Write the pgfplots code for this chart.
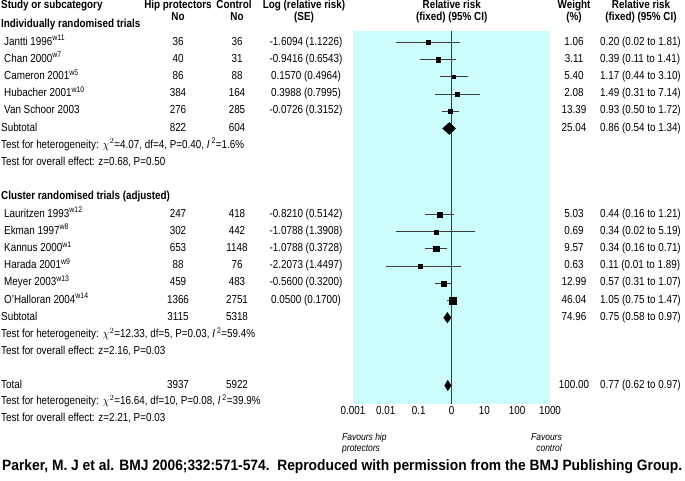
\documentclass[border=0pt]{standalone}
\usepackage{pgfplots}
\pgfplotsset{compat=1.18}
\usepackage{fontspec}
\setmainfont{Liberation Sans}[FakeStretch=0.85]
\newfontfamily\citefont{Liberation Sans}[FakeStretch=0.92]
\definecolor{panel}{RGB}{204,252,252}
\definecolor{ciline}{RGB}{60,60,60}
\begin{document}
\begin{tikzpicture}[x=1bp,y=-1bp,
  every node/.style={inner sep=0pt,font=\fontsize{11.6bp}{13bp}\selectfont},
  L/.style={anchor=mid west},
  C/.style={anchor=mid},
  H/.style={anchor=mid,font=\fontsize{11.6bp}{13bp}\selectfont\bfseries},
  HL/.style={anchor=mid west,font=\fontsize{11.6bp}{13bp}\selectfont\bfseries}]
\path[use as bounding box] (0,0) rectangle (685,481);
\coordinate (sw) at (353,404);
\begin{axis}[
  at={(sw)}, anchor=south west,
  scale only axis, width=197bp, height=373bp,
  xmode=log, xmin=0.001, xmax=1000,
  ymin=31, ymax=404, y dir=reverse,
  axis background/.style={fill=panel},
  axis line style={draw=none},
  xtick={0.001,0.01,0.1,1,10,100,1000},
  xticklabels={0.001,0.01,0.1,0,10,100,1000},
  xtick pos=left, ytick=\empty,
  xminorticks=false,
  major tick length=3bp,
  tick style={white,line width=0.8pt},
  xticklabel style={font=\fontsize{11.6bp}{13bp}\selectfont, inner sep=2pt},
  clip=false,
  ci/.style={draw=ciline,line width=0.9pt},
  sq/.style={only marks,mark=square*,mark options={fill=black,draw=black}},
]
% null line
\addplot[draw=ciline,line width=0.9pt] coordinates {(1,31) (1,404)};
% individually randomised trials: confidence intervals
\addplot[ci] coordinates {(0.02,42.5) (1.81,42.5)};
\addplot[ci] coordinates {(0.11,59.7) (1.41,59.7)};
\addplot[ci] coordinates {(0.44,76.9) (3.10,76.9)};
\addplot[ci] coordinates {(0.31,94.1) (7.14,94.1)};
\addplot[ci] coordinates {(0.50,111.3) (1.72,111.3)};
% cluster randomised trials
\addplot[ci] coordinates {(0.16,214.5) (1.21,214.5)};
\addplot[ci] coordinates {(0.02,231.7) (5.19,231.7)};
\addplot[ci] coordinates {(0.16,248.9) (0.71,248.9)};
\addplot[ci] coordinates {(0.01,266.1) (1.89,266.1)};
\addplot[ci] coordinates {(0.31,283.3) (1.07,283.3)};
\addplot[ci] coordinates {(0.75,300.5) (1.47,300.5)};
% point estimates
\addplot[sq,mark size=2bp] coordinates {(0.20,42.5)};
\addplot[sq,mark size=2.3bp] coordinates {(0.39,59.7)};
\addplot[sq,mark size=1.7bp] coordinates {(1.17,76.9)};
\addplot[sq,mark size=1.7bp] coordinates {(1.49,94.1)};
\addplot[sq,mark size=1.9bp] coordinates {(0.93,111.3)};
\addplot[sq,mark size=2.5bp] coordinates {(0.44,214.5)};
\addplot[sq,mark size=2bp] coordinates {(0.34,231.7)};
\addplot[sq,mark size=2.7bp] coordinates {(0.34,248.9)};
\addplot[sq,mark size=2.3bp] coordinates {(0.11,266.1)};
\addplot[sq,mark size=2.5bp] coordinates {(0.57,283.3)};
\addplot[sq,mark size=3.5bp] coordinates {(1.05,300.5)};
% pooled diamonds
\addplot[fill=black,draw=black] coordinates {(0.54,128.5) (0.86,122.5) (1.34,128.5) (0.86,134.5)} --cycle;
\addplot[fill=black,draw=black] coordinates {(0.58,317.7) (0.75,312.5) (0.97,317.7) (0.75,322.9)} --cycle;
\addplot[fill=black,draw=black] coordinates {(0.62,385.5) (0.77,380.3) (0.97,385.5) (0.77,390.7)} --cycle;
\end{axis}
% headers
\node[HL] at (1,6) {Study or subcategory};
\node[H] at (178,6) {Hip protectors};
\node[H] at (178,18) {No};
\node[H] at (234,6) {Control};
\node[H] at (237,18) {No};
\node[H] at (304,6) {Log (relative risk)};
\node[H] at (304,18) {(SE)};
\node[H] at (451.7,6) {Relative risk};
\node[H] at (451.7,18) {(fixed) (95\% CI)};
\node[H] at (574,6) {Weight};
\node[H] at (574,18) {(\%)};
\node[H] at (641,6) {Relative risk};
\node[H] at (641,18) {(fixed) (95\% CI)};
\node[HL] at (1,25) {Individually randomised trials};
% study rows
\foreach \y/\name/\hp/\co/\lr/\w/\rr in {
  42.5/{Jantti 1996\textsuperscript{w11}}/36/36/{-1.6094 (1.1226)}/1.06/{0.20 (0.02 to 1.81)},
  59.7/{Chan 2000\textsuperscript{w7}}/40/31/{-0.9416 (0.6543)}/3.11/{0.39 (0.11 to 1.41)},
  76.9/{Cameron 2001\textsuperscript{w5}}/86/88/{0.1570 (0.4964)}/5.40/{1.17 (0.44 to 3.10)},
  94.1/{Hubacher 2001\textsuperscript{w10}}/384/164/{0.3988 (0.7995)}/2.08/{1.49 (0.31 to 7.14)},
  111.3/{Van Schoor 2003}/276/285/{-0.0726 (0.3152)}/13.39/{0.93 (0.50 to 1.72)},
  214.5/{Lauritzen 1993\textsuperscript{w12}}/247/418/{-0.8210 (0.5142)}/5.03/{0.44 (0.16 to 1.21)},
  231.7/{Ekman 1997\textsuperscript{w8}}/302/442/{-1.0788 (1.3908)}/0.69/{0.34 (0.02 to 5.19)},
  248.9/{Kannus 2000\textsuperscript{w1}}/653/1148/{-1.0788 (0.3728)}/9.57/{0.34 (0.16 to 0.71)},
  266.1/{Harada 2001\textsuperscript{w9}}/88/76/{-2.2073 (1.4497)}/0.63/{0.11 (0.01 to 1.89)},
  283.3/{Meyer 2003\textsuperscript{w13}}/459/483/{-0.5600 (0.3200)}/12.99/{0.57 (0.31 to 1.07)},
  300.5/{O'Halloran 2004\textsuperscript{w14}}/1366/2751/{0.0500 (0.1700)}/46.04/{1.05 (0.75 to 1.47)}}
{
  \node[L] at (4,\y) {\name};
  \node[C] at (178,\y) {\hp};
  \node[C] at (237,\y) {\co};
  \node[C] at (306,\y) {\lr};
  \node[C] at (574,\y) {\w};
  \node[L] at (600,\y) {\rr};
}
% subtotal 1
\node[L] at (1,128.5) {Subtotal};
\node[C] at (178,128.5) {822};
\node[C] at (237,128.5) {604};
\node[C] at (574,128.5) {25.04};
\node[L] at (600,128.5) {0.86 (0.54 to 1.34)};
\node[L] at (1,145.7) {Test for heterogeneity: $\chi^2$=4.07, df=4, P=0.40, \textit{I}\,\textsuperscript{2}=1.6\%};
\node[L] at (1,162.9) {Test for overall effect: z=0.68, P=0.50};
% group 2
\node[HL] at (1,197.3) {Cluster randomised trials (adjusted)};
\node[L] at (1,317.7) {Subtotal};
\node[C] at (178,317.7) {3115};
\node[C] at (237,317.7) {5318};
\node[C] at (574,317.7) {74.96};
\node[L] at (600,317.7) {0.75 (0.58 to 0.97)};
\node[L] at (1,334.9) {Test for heterogeneity: $\chi^2$=12.33, df=5, P=0.03, \textit{I}\,\textsuperscript{2}=59.4\%};
\node[L] at (1,352.1) {Test for overall effect: z=2.16, P=0.03};
% total
\node[L] at (1,385.5) {Total};
\node[C] at (178,385.5) {3937};
\node[C] at (237,385.5) {5922};
\node[C] at (574,385.5) {100.00};
\node[L] at (600,385.5) {0.77 (0.62 to 0.97)};
\node[L] at (1,402) {Test for heterogeneity: $\chi^2$=16.64, df=10, P=0.08, \textit{I}\,\textsuperscript{2}=39.9\%};
\node[L] at (1,418.5) {Test for overall effect: z=2.21, P=0.03};
% favours
\node[anchor=mid west,font=\fontsize{10bp}{11bp}\selectfont\itshape] at (342,437.5) {Favours hip};
\node[anchor=mid west,font=\fontsize{10bp}{11bp}\selectfont\itshape] at (342,448.5) {protectors};
\node[anchor=mid east,font=\fontsize{10bp}{11bp}\selectfont\itshape] at (562,437.5) {Favours};
\node[anchor=mid east,font=\fontsize{10bp}{11bp}\selectfont\itshape] at (562,448.5) {control};
% citation
\node[anchor=mid west,font=\citefont\fontsize{15bp}{17bp}\selectfont\bfseries] at (2,468) {Parker, M. J et al. BMJ 2006;332:571-574.\ \ Reproduced with permission from the BMJ Publishing Group.};
\end{tikzpicture}
\end{document}
